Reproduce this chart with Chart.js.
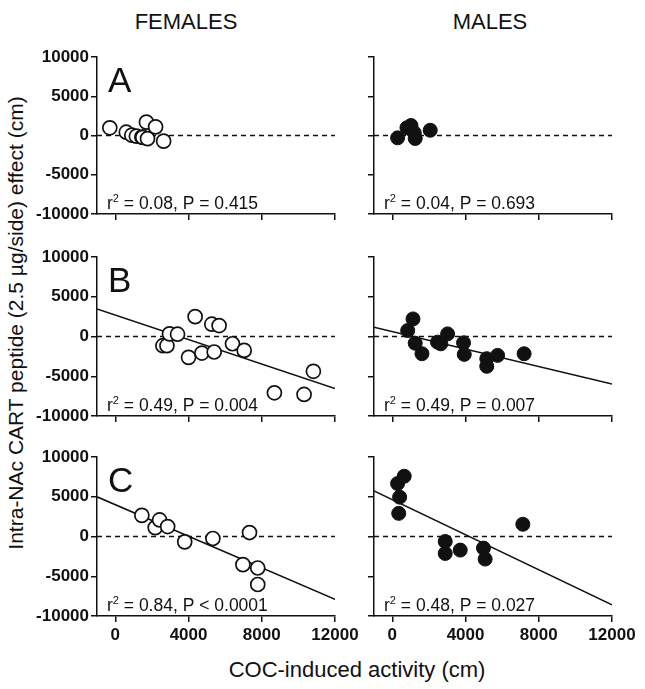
<!DOCTYPE html>
<html>
<head>
<meta charset="utf-8">
<script src="https://cdn.jsdelivr.net/npm/chart.js@4.4.0/dist/chart.umd.min.js"></script>
<style>
  body { margin: 0; background: #fff; }
  #wrap { position: relative; width: 645px; height: 689px; font-family: 'Liberation Sans', Arial, sans-serif; color: #111; }
  #wrap canvas { position: absolute; }
  .lbl { position: absolute; font-size: 22px; line-height: 22px; white-space: nowrap; transform: translate(-50%, -50%); }
</style>
</head>
<body>
<div id="wrap">
  <div class="lbl" style="left:186px; top:22px;">FEMALES</div>
  <div class="lbl" style="left:490px; top:22px;">MALES</div>
  <div class="lbl" style="left:16px; top:323px; font-size:21px; transform: translate(-50%, -50%) rotate(-90deg);">Intra-NAc CART peptide (2.5 µg/side) effect (cm)</div>
  <div class="lbl" style="left:357px; top:670px;">COC-induced activity (cm)</div>
</div>
<script>
// --- DATA ---
const xMin = -1000, xMax = 12000;
const xTicks = [0, 4000, 8000, 12000];
const yMin = -10000, yMax = 10000, yStep = 5000;

// A: females / males
const femA_x = [-300, 600, 900, 1150, 1450, 1500, 1700, 1760, 2200, 2640];
const femA_y = [980, 420, 40, -90, -200, -250, 1700, -400, 1100, -720];
const maleA_x = [290, 800, 1020, 1200, 1250, 2070];
const maleA_y = [-300, 980, 1270, 340, -380, 670];

// B
const femB_x = [2600, 2820, 2960, 3400, 4000, 4360, 4730, 5270, 5400, 5670, 6400, 7040, 8690, 10310, 10820];
const femB_y = [-1160, -1160, 330, 290, -2620, 2500, -2080, 1550, -1950, 1380, -910, -1750, -7080, -7290, -4380];
const maleB_x = [840, 1130, 1250, 1620, 2470, 2650, 3020, 3890, 3930, 5160, 5160, 5750, 7200];
const maleB_y = [750, 2210, -840, -2170, -710, -920, 330, -790, -2250, -2790, -3750, -2375, -2170];

// C
const femC_x = [1450, 2180, 2420, 2860, 3790, 5330, 6970, 7330, 7780, 7780];
const femC_y = [2660, 1120, 2080, 1250, -670, -250, -3540, 500, -3960, -6040];
const maleC_x = [290, 650, 400, 350, 2890, 2890, 3710, 4980, 5070, 7130];
const maleC_y = [6660, 7580, 4950, 2910, -630, -2130, -1710, -1460, -2840, 1540];

// regression fits [slope, intercept]
const fitFemB = [-0.77, 2690];
const fitMaleB = [-0.55, 620];
const fitFemC = [-0.992, 4000];
const fitMaleC = [-1.1, 4620];

const r2Labels = ['0.08', '0.04', '0.49', '0.49', '0.84', '0.48'];
const pLabels = ['= 0.415', '= 0.693', '= 0.004', '= 0.007', '< 0.0001', '= 0.027'];
const panelLetters = ['A', 'B', 'C'];

// --- LAYOUT ---
const FONT = "'Liberation Sans', Arial, sans-serif";
const INK = '#111';
const cols = [
    { left: 0, width: 360, axisW: 97, padRight: 25 },
    { left: 345, width: 300, axisW: 29, padRight: 33 }
];
const rows = [
    { top: 30, chartTop: 57, chartBottom: 214 },
    { top: 230, chartTop: 257, chartBottom: 416 },
    { top: 430, chartTop: 457, chartBottom: 616 }
];
const X_AXIS_H = 40;

// draws panel letter and r^2 / P text
const panelText = {
    id: 'panelText',
    afterDraw(chart, args, opts) {
        const { ctx, chartArea: a } = chart;
        ctx.save();
        ctx.fillStyle = INK;
        ctx.textBaseline = 'alphabetic';
        if (opts.letter) {
            ctx.font = '35px ' + FONT;
            ctx.fillText(opts.letter, a.left + 11, a.top + 35);
        }
        let x = a.left + 10;
        const y = a.bottom - 5;
        ctx.font = '17.5px ' + FONT;
        ctx.fillText('r', x, y);
        x += ctx.measureText('r').width;
        ctx.font = '11px ' + FONT;
        ctx.fillText('2', x, y - 7);
        x += ctx.measureText('2').width;
        ctx.font = '17.5px ' + FONT;
        ctx.fillText(' = ' + opts.r2 + ', P ' + opts.p, x, y);
        ctx.restore();
    }
};

function fitLine(fit) {
    return [xMin, xMax].map(x => ({ x, y: fit[0] * x + fit[1] }));
}

function makePanel(rowIdx, colIdx, xs, ys, filled, fit) {
    const col = cols[colIdx], row = rows[rowIdx];
    const h = row.chartBottom - row.top + X_AXIS_H;
    const canvas = document.createElement('canvas');
    canvas.width = col.width;
    canvas.height = h;
    canvas.style.left = col.left + 'px';
    canvas.style.top = row.top + 'px';
    document.getElementById('wrap').appendChild(canvas);

    const datasets = [{
        data: xs.map((x, i) => ({ x, y: ys[i] })),
        pointRadius: 7,
        pointHoverRadius: 7,
        pointBorderWidth: filled ? 1 : 1.7,
        pointBorderColor: INK,
        pointBackgroundColor: filled ? INK : '#fff',
        order: 0
    }, {
        data: [{ x: xMin, y: 0 }, { x: xMax, y: 0 }],
        showLine: true,
        borderColor: INK,
        borderWidth: 1.3,
        borderDash: [5, 4],
        pointRadius: 0,
        order: 2
    }];
    if (fit) {
        datasets.push({
            data: fitLine(fit),
            showLine: true,
            borderColor: INK,
            borderWidth: 1.5,
            pointRadius: 0,
            order: 1
        });
    }

    const showXLabels = rowIdx === 2;
    const showYLabels = colIdx === 0;

    return new Chart(canvas.getContext('2d'), {
        type: 'scatter',
        data: { datasets },
        options: {
            responsive: false,
            animation: false,
            events: [],
            layout: { padding: { top: row.chartTop - row.top, right: col.padRight, left: 0, bottom: 0 } },
            plugins: {
                legend: { display: false },
                tooltip: { enabled: false },
                panelText: {
                    letter: colIdx === 0 ? panelLetters[rowIdx] : '',
                    r2: r2Labels[rowIdx * 2 + colIdx],
                    p: pLabels[rowIdx * 2 + colIdx]
                }
            },
            scales: {
                x: {
                    type: 'linear',
                    min: xMin,
                    max: xMax,
                    afterBuildTicks: s => { s.ticks = xTicks.map(v => ({ value: v })); },
                    afterFit: s => { s.height = X_AXIS_H; s.paddingLeft = 0; s.paddingRight = 0; },
                    grid: { drawOnChartArea: false, drawTicks: true, tickLength: 6, color: INK, lineWidth: 1.5 },
                    border: { display: true, color: INK, width: 1.5 },
                    ticks: {
                        color: showXLabels ? INK : 'rgba(0,0,0,0)',
                        font: { family: FONT, size: 17, weight: 'bold' },
                        padding: 3,
                        maxRotation: 0,
                        callback: v => String(v)
                    }
                },
                y: {
                    type: 'linear',
                    min: yMin,
                    max: yMax,
                    afterFit: s => { s.width = col.axisW; s.paddingTop = 0; s.paddingBottom = 0; },
                    grid: { drawOnChartArea: false, drawTicks: true, tickLength: 6, color: INK, lineWidth: 1.5 },
                    border: { display: true, color: INK, width: 1.5 },
                    ticks: {
                        stepSize: yStep,
                        color: showYLabels ? INK : 'rgba(0,0,0,0)',
                        font: { family: FONT, size: 17, weight: 'bold' },
                        padding: 2,
                        callback: v => String(v)
                    }
                }
            }
        },
        plugins: [panelText]
    });
}

makePanel(0, 0, femA_x, femA_y, false, null);
makePanel(0, 1, maleA_x, maleA_y, true, null);
makePanel(1, 0, femB_x, femB_y, false, fitFemB);
makePanel(1, 1, maleB_x, maleB_y, true, fitMaleB);
makePanel(2, 0, femC_x, femC_y, false, fitFemC);
makePanel(2, 1, maleC_x, maleC_y, true, fitMaleC);
</script>
</body>
</html>
